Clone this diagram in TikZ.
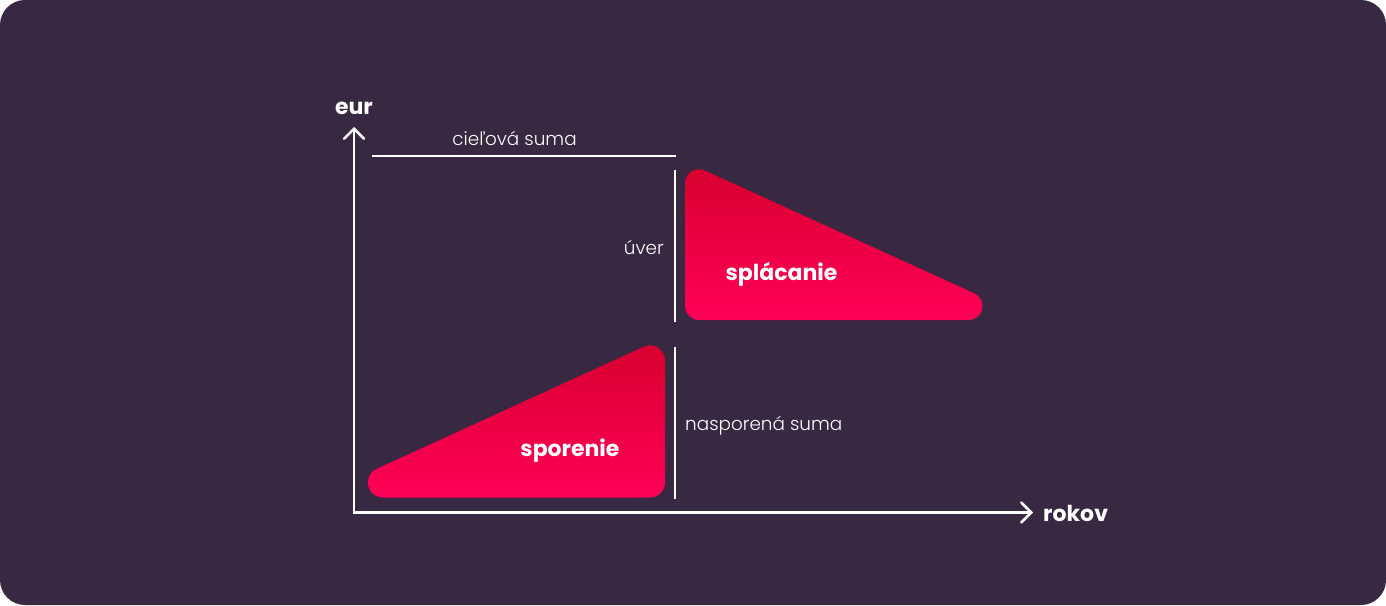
\documentclass[tikz,border=0pt]{standalone}
\usepackage{fontspec}
\setmainfont{Poppins}
\newfontfamily\lightfont{Poppins Light}
\usetikzlibrary{arrows.meta}
\definecolor{bg}{HTML}{392842}
\definecolor{redtop}{HTML}{D8002F}
\definecolor{redbot}{HTML}{FF0057}
\begin{document}
\begin{tikzpicture}[x=1pt,y=-1pt,
  boldlbl/.style={text=white,inner sep=0pt,font=\fontsize{22}{26}\selectfont\bfseries},
  lightlbl/.style={text=white,inner sep=0pt,font=\lightfont\fontsize{18.4}{22}\selectfont},
  wline/.style={white,line width=2.8pt},
  axisline/.style={white,line width=2.5pt,line cap=round,
    {Straight Barb[length=10pt,width=20pt,line cap=round]}-{Straight Barb[length=10pt,width=20pt,line cap=round]}},
  redshape/.style={top color=redtop,bottom color=redbot,draw=none}]
\useasboundingbox (0,0) rectangle (1386,605);
\fill[white] (0,0) rectangle (1386,605);
\fill[bg,rounded corners=25pt] (0,0) rectangle (1386,605);

% axes
\coordinate (ytop) at (354,127);
\coordinate (orig) at (354,512.5);
\coordinate (xend) at (1033,512.5);
\draw[axisline] (ytop) -- (orig) -- (xend);
\node[boldlbl,anchor=base] (eur) at (354,114.3) {eur};
\node[boldlbl,anchor=base west] (rokov) at (1043,521) {rokov};

% target line
\coordinate (tl) at (372,156);
\coordinate (tr) at (676,156);
\draw[wline] (tl) -- (tr);
\node[lightlbl,anchor=base] (ciel) at (514.5,145.3) {cieľová suma};

% loan line
\coordinate (ut) at (675,169.5);
\coordinate (ub) at (675,322);
\draw[wline] (ut) -- (ub);
\node[lightlbl,anchor=base east] (uver) at (664,254) {úver};

% saved line
\coordinate (nt) at (675,347);
\coordinate (nb) at (675,498.5);
\draw[wline] (nt) -- (nb);
\node[lightlbl,anchor=base west] (nasp) at (685,430.7) {nasporená suma};

% splacanie shape (rounded triangle, fillet radius 14)
\path[redshape] (685,183.27) arc[start angle=180,end angle=294.5,radius=14]
  -- (974.3,293.3) arc[start angle=294.5,end angle=450,radius=14]
  -- (699,320) arc[start angle=90,end angle=180,radius=14]
  -- cycle;
\node[boldlbl,anchor=base] (splac) at (781.5,280) {splácanie};

% sporenie shape (rounded triangle, fillet radius 15)
\path[redshape] (382.87,497.5) arc[start angle=90,end angle=245.4,radius=15]
  -- (643.77,346.71) arc[start angle=245.5,end angle=360,radius=15]
  -- (665,482.5) arc[start angle=0,end angle=90,radius=15]
  -- cycle;
\node[boldlbl,anchor=base] (spor) at (570,456.7) {sporenie};
\end{tikzpicture}
\end{document}
